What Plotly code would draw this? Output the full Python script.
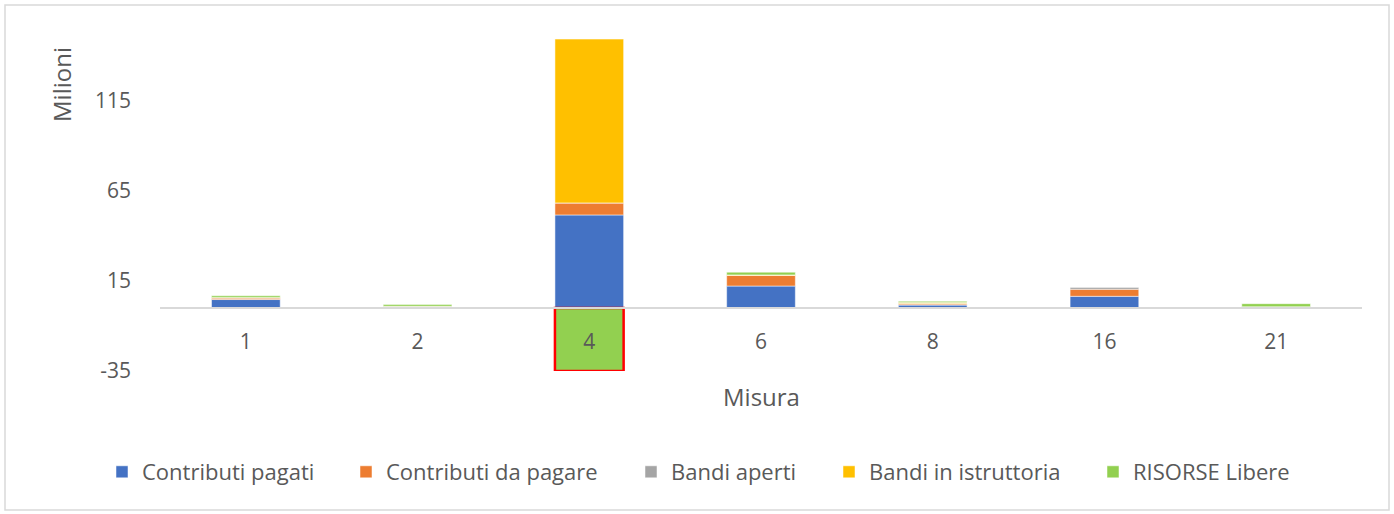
import plotly.graph_objects as go

categories = ["1", "2", "4", "6", "8", "16", "21"]
contributi_pagati = [4.7, 0, 51.7, 12.2, 1.6, 6.5, 0]
contributi_da_pagare = [0.9, 1.0, 6.7, 5.9, 0.6, 3.9, 0.7]
bandi_aperti = [0, 0, 0, 0, 0.3, 1.3, 0]
bandi_istruttoria = [0.3, 0, 91.0, 0.3, 0.5, 0, 0]
risorse_libere = [0.9, 1.0, -35.0, 1.5, 0.7, 0, 1.7]
y_ticks = [-35, 15, 65, 115]
y_tick_labels = ["-35", "15", "65", "115"]

series = [
    ("Contributi pagati", contributi_pagati, "#4472C4"),
    ("Contributi da pagare", contributi_da_pagare, "#ED7D31"),
    ("Bandi aperti", bandi_aperti, "#A5A5A5"),
    ("Bandi in istruttoria", bandi_istruttoria, "#FFC000"),
    ("RISORSE Libere", risorse_libere, "#92D050"),
]
legend_left_px = [102, 346, 631, 829, 1093]

FONT = "Open Sans"
TXT = "#595959"

W, H = 1394, 514
L, R, T, B = 160, 32, 20, 143
ymin, ymax = -35, 160
pw, ph = W - L - R, H - T - B


def px(xp):
    return (xp - L) / pw


def py(yp):
    return (H - B - yp) / ph


fig = go.Figure()
legend_layouts = {}
for i, (name, vals, col) in enumerate(series):
    if name == "RISORSE Libere":
        lc = ["red" if c == "4" else "white" for c in categories]
        lw = [2.5 if c == "4" else 0.5 for c in categories]
    else:
        lc = "white"
        lw = 0.5
    lname = "legend" if i == 0 else f"legend{i + 1}"
    fig.add_trace(go.Bar(x=categories, y=vals, name=name, legend=lname,
                         marker=dict(color=col, line=dict(color=lc, width=lw))))
    legend_layouts[lname] = dict(
        orientation="h", x=px(legend_left_px[i]), xanchor="left",
        y=py(472), yanchor="middle", bgcolor="rgba(0,0,0,0)", borderwidth=0,
        font=dict(family=FONT, size=22, color=TXT))

fig.update_layout(
    width=W, height=H,
    margin=dict(l=L, r=R, t=T, b=B, autoexpand=False),
    barmode="relative", bargap=0.6,
    plot_bgcolor="white", paper_bgcolor="white",
    font=dict(family=FONT, size=21, color=TXT),
    showlegend=True,
    xaxis=dict(type="category", anchor="free", position=(0 - ymin) / (ymax - ymin),
               showline=True, linecolor="#D9D9D9", linewidth=1.5,
               showgrid=False, ticks="", ticklabelstandoff=15,
               tickfont=dict(family=FONT, size=21, color=TXT)),
    yaxis=dict(range=[ymin, ymax], tickvals=y_ticks, ticktext=y_tick_labels,
               showgrid=False, zeroline=False,
               showline=False, ticks="", ticklabelstandoff=28,
               tickfont=dict(family=FONT, size=21, color=TXT)),
    annotations=[
        dict(text="Milioni", textangle=-90, xref="paper", yref="paper",
             x=px(61), y=py(85), xanchor="center", yanchor="middle",
             showarrow=False, font=dict(family=FONT, size=24, color=TXT)),
        dict(text="Misura", xref="paper", yref="paper",
             x=px(761), y=py(397), xanchor="center", yanchor="middle",
             showarrow=False, font=dict(family=FONT, size=24, color=TXT)),
    ],
    shapes=[
        dict(type="rect", xref="paper", yref="paper",
             x0=px(5), x1=px(1389), y0=py(510), y1=py(5),
             line=dict(color="#D9D9D9", width=1.5), fillcolor="rgba(0,0,0,0)", layer="below"),
    ],
    **legend_layouts,
)

fig.write_html("out.html", config={"displayModeBar": False},
               post_script="document.body.style.margin='0';")
